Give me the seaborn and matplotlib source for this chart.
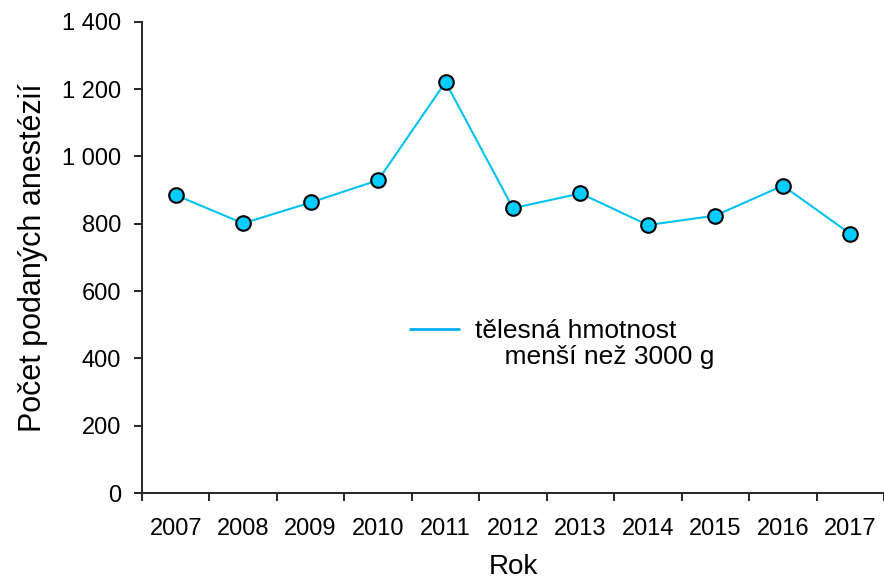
import seaborn as sns
import matplotlib.pyplot as plt
import pandas as pd
from matplotlib.lines import Line2D
from matplotlib.ticker import FuncFormatter, FixedLocator

roky = ["2007", "2008", "2009", "2010", "2011", "2012",
        "2013", "2014", "2015", "2016", "2017"]
pocty = [885, 801, 863, 929, 1221, 846, 890, 796, 824, 913, 770]
serie = ["tělesná hmotnost", "    menší než 3000 g"]

df = pd.DataFrame({"Rok": roky, "Pocet": pocty})
df["x"] = range(len(df))

sns.set_style("ticks")
plt.rcParams['font.family'] = ['Liberation Sans', 'DejaVu Sans']
plt.rcParams['text.color'] = 'black'
plt.rcParams['axes.labelcolor'] = 'black'
plt.rcParams['xtick.color'] = 'black'
plt.rcParams['ytick.color'] = 'black'

barva = "#00C3F0"

fig = plt.figure(figsize=(8.84, 5.79), dpi=100)
ax = fig.add_axes([0.1606, 0.1485, 0.8394, 0.814])

sns.lineplot(data=df, x="x", y="Pocet", color=barva, linewidth=1.5,
             ax=ax, zorder=2)
sns.scatterplot(data=df, x="x", y="Pocet", color="#00CCFF", s=110,
                edgecolor="black", linewidth=1.5, ax=ax, zorder=3, legend=False)

ax.set_xlim(-0.5, len(roky) - 0.5)
ax.set_ylim(0, 1400)

# hranice kategorii jako hlavni ticky, popisky uprostred
ax.xaxis.set_major_locator(FixedLocator([i - 0.5 for i in range(len(roky) + 1)]))
ax.xaxis.set_minor_locator(FixedLocator(list(range(len(roky)))))
ax.set_xticklabels([])
ax.set_xticklabels(roky, minor=True)
ax.tick_params(axis="x", which="minor", length=0, labelsize=17, pad=18)
ax.tick_params(axis="x", which="major", length=6, width=1.2)

ax.set_yticks(range(0, 1401, 200))
ax.yaxis.set_major_formatter(FuncFormatter(lambda v, p: format(int(v), ",").replace(",", " ")))
ax.tick_params(axis="y", length=6, width=1.2, labelsize=17, pad=9)

for s in ["top", "right"]:
    ax.spines[s].set_visible(False)
for s in ["left", "bottom"]:
    ax.spines[s].set_linewidth(1.4)

ax.set_xlabel("Rok", fontsize=20, labelpad=10)
ax.set_ylabel("Počet podaných anestézií", fontsize=22, labelpad=10)

# legenda: cara jen u prvniho radku popisku
handles = [Line2D([], [], color="#00AEEF", linewidth=2),
           Line2D([], [], color="none")]
leg = ax.legend(handles, serie, loc="upper left", bbox_to_anchor=(0.329, 0.42),
                frameon=False, fontsize=19, handlelength=1.85, handletextpad=0.6,
                labelspacing=0.1)

fig.savefig("out.png", dpi=100)
